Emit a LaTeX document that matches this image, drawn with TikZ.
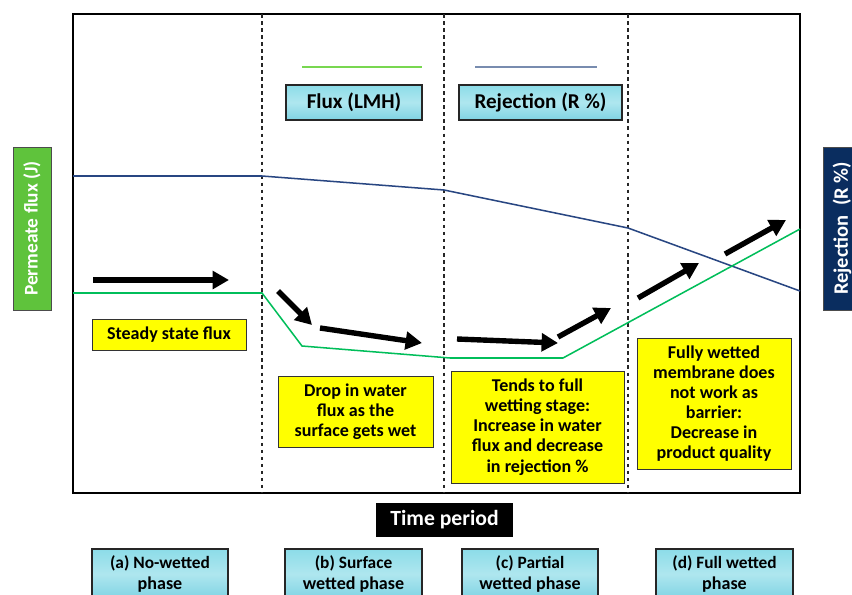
\documentclass[tikz,border=0pt]{standalone}
\usepackage{fontspec}
\setmainfont{Carlito}
\usetikzlibrary{arrows.meta}
\definecolor{ybox}{RGB}{255,255,0}
\definecolor{gline}{RGB}{0,190,90}
\definecolor{bline}{RGB}{40,70,130}
\definecolor{glegend}{RGB}{120,215,80}
\definecolor{blegend}{RGB}{120,140,175}
\definecolor{glabel}{RGB}{95,195,60}
\definecolor{navy}{RGB}{10,45,95}
\definecolor{water}{RGB}{140,220,232}
\definecolor{waterd}{RGB}{95,200,220}
\tikzset{
  txt/.style={font=\fontsize{15.4}{17.2}\selectfont\bfseries, align=center, inner sep=0pt},
  yellowbox/.style={txt, draw=black!80, line width=0.8pt, fill=ybox},
  waterbox/.style={txt, draw=black!85, line width=0.9pt, top color=water, bottom color=waterd!80, middle color=water!70},
  bigarrow/.style={line width=4.6pt, -{Triangle[length=14pt,width=15pt]}, black},
  phase/.style={dashed, line width=0.9pt, black!85},
}
\begin{document}
\begin{tikzpicture}[x=0.03cm,y=-0.03cm]
\clip (0,0) rectangle (852,594);
\fill[white] (0,0) rectangle (852,594);
% frame
\draw[line width=1pt] (73,14) rectangle (800,493);
\foreach \xx in {262,444,628} \draw[phase] (\xx,14) -- (\xx,493);
% curves
\draw[bline, line width=1.3pt] (73,176) -- (262,176) -- (444,190) -- (628,228) -- (800,291);
\draw[gline, line width=1.3pt] (73,293) -- (262,293) -- (302,346) -- (450,358) -- (563,358) -- (800,229);
% legend
\draw[glegend, line width=1.5pt] (302,67) -- (422,67);
\draw[blegend, line width=1.5pt] (475,67) -- (597,67);
\node[waterbox, minimum width=4.08cm, minimum height=1.05cm] (lflux) at (354,102.5) {\fontsize{18}{20}\selectfont Flux (LMH)};
\node[waterbox, minimum width=4.89cm, minimum height=1.05cm] (lrej) at (540.5,102.5) {\fontsize{18}{20}\selectfont Rejection (R \%)};
% axis labels
\node[txt, text=white, draw=black!70, line width=0.8pt, fill=glabel, rotate=90, minimum width=4.89cm, minimum height=1.14cm] (ylab) at (32,228.5) {\fontsize{16.5}{19}\selectfont Permeate flux (J)};
\node[txt, text=white, draw=black!70, line width=0.8pt, fill=navy, rotate=90, minimum width=4.89cm, minimum height=1.14cm] (rlab) at (842,228.5) {\fontsize{17.5}{20}\selectfont Rejection\ \ (R \%)};
\node[txt, text=white, fill=black, minimum width=4.11cm, minimum height=1.02cm] (tlab) at (444.5,520) {\fontsize{18.5}{21}\selectfont Time period};
% description boxes
\node[yellowbox, minimum width=4.62cm, minimum height=0.93cm] (b1) at (169,334.5) {Steady state flux};
\node[yellowbox, minimum width=4.65cm, minimum height=2.13cm] (b2) at (355.5,411.5) {Drop in water\\flux as the\\surface gets wet};
\node[yellowbox, minimum width=5.19cm, minimum height=3.36cm] (b3) at (537.5,427) {Tends to full\\wetting stage:\\Increase in water\\flux and decrease\\in rejection \%};
\node[yellowbox, minimum width=4.62cm, minimum height=3.93cm] (b4) at (714,403.5) {Fully wetted\\membrane does\\not work as\\barrier:\\Decrease in\\product quality};
% phase boxes
\node[waterbox, minimum width=4.08cm, minimum height=1.5cm] (pa) at (160,574) {\fontsize{14.8}{16.5}\selectfont (a) No-wetted\\phase};
\node[waterbox, minimum width=4.11cm, minimum height=1.5cm] (pb) at (353.5,574) {\fontsize{14.8}{16.5}\selectfont (b) Surface\\wetted phase};
\node[waterbox, minimum width=4.08cm, minimum height=1.5cm] (pc) at (530,574) {\fontsize{14.8}{16.5}\selectfont (c) Partial\\wetted phase};
\node[waterbox, minimum width=4.11cm, minimum height=1.5cm] (pd) at (724.5,574) {\fontsize{14.8}{16.5}\selectfont (d) Full wetted\\phase};
% arrows
\coordinate (a1s) at (93,280); \coordinate (a1e) at (229,280);
\coordinate (a2s) at (278,291); \coordinate (a2e) at (312,325);
\coordinate (a3s) at (320,328); \coordinate (a3e) at (422,343);
\coordinate (a4s) at (457,339); \coordinate (a4e) at (558,343);
\coordinate (a5s) at (558,337); \coordinate (a5e) at (611,308);
\coordinate (a6s) at (638,298); \coordinate (a6e) at (699,263);
\coordinate (a7s) at (725,254); \coordinate (a7e) at (786,220);
\foreach \i in {1,...,7} \draw[bigarrow] (a\i s) -- (a\i e);
\end{tikzpicture}
\end{document}
